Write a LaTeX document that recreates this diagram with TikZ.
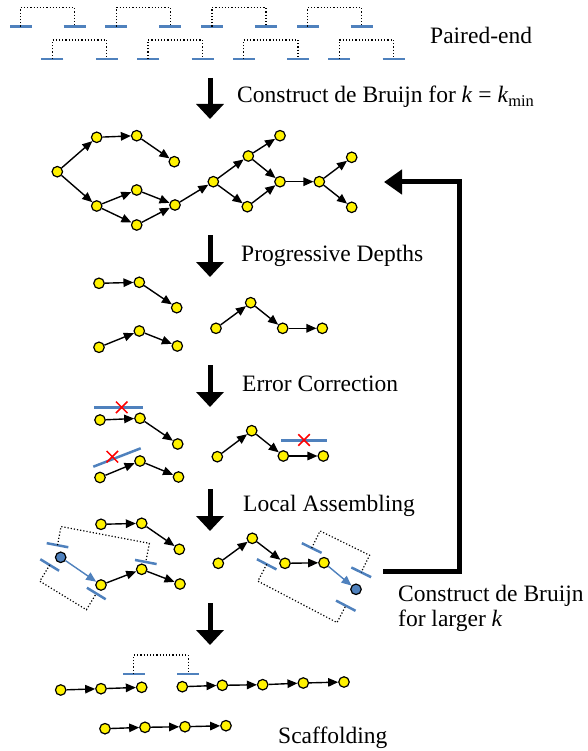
\documentclass[tikz,border=0pt]{standalone}
\usepackage{fontspec}
\setmainfont{Liberation Serif}
\usetikzlibrary{arrows.meta,calc,shapes.misc}

\definecolor{readblue}{RGB}{79,129,189}

\tikzset{
  kmer/.style={circle,draw=black,fill=yellow,line width=1.2pt,minimum size=10.5pt,inner sep=0pt},
  seed/.style={kmer,fill=readblue},
  edge/.style={-{Triangle[length=10pt,width=8.5pt]},line width=1.4pt},
  extend/.style={edge,draw=readblue,fill=readblue},
  bigarrow/.style={-{Triangle[length=15pt,width=27pt]},line width=5pt},
  read/.style={draw=readblue,line width=2.5pt},
  insert/.style={draw=black,dotted,line width=1.2pt},
  errmark/.style={cross out,draw=red,line width=1.5pt,minimum size=10pt,inner sep=0pt},
  step label/.style={font=\fontsize{23.5}{25}\selectfont,anchor=west,inner sep=0pt,align=left},
}

% two reads of a pair with the insert between them
\newcommand{\pairedread}[3]{%
  \draw [read] ($(#1)!11pt!(#2)$) -- ($(#1)!-11pt!(#2)$);
  \draw [read] ($(#2)!11pt!(#1)$) -- ($(#2)!-11pt!(#1)$);
  \path ($(#1)!19pt!#3:(#2)$) coordinate (prc);
  \draw [insert] (#1) -- (prc) -- ($(#2)+(prc)-(#1)$) -- (#2);
}

\begin{document}
\begin{tikzpicture}[x=1pt,y=1pt]
\useasboundingbox (0,0) rectangle (587,-751);
% paired-end reads
\foreach \x in {20.5,116.2,211.9,307.6} {
  \coordinate (ra) at (\x,-26.7);
  \coordinate (rb) at (\x+54,-26.7);
  \pairedread{ra}{rb}{90}
}
\foreach \x in {52.3,148,243.5,339.2} {
  \coordinate (ra) at (\x,-59);
  \coordinate (rb) at (\x+54.5,-59);
  \pairedread{ra}{rb}{90}
}
\node [step label] (lpaired) at (430,-35) {Paired-end};

\coordinate (a1s) at (210,-78);
\coordinate (a1e) at (210,-119);
\draw [bigarrow] (a1s) -- (a1e);
\node [step label] (lbuild) at (237,-97) {Construct de Bruijn for \textit{k} = \textit{k}\textsubscript{min}};

% de Bruijn graph
\node [kmer] (g1) at (57.3,-171.7) {};
\node [kmer] (g2) at (96.7,-137.3) {};
\node [kmer] (g3) at (136.7,-135.7) {};
\node [kmer] (g4) at (174.3,-161.7) {};
\node [kmer] (g5) at (96.7,-206) {};
\node [kmer] (g6) at (136.7,-190) {};
\node [kmer] (g7) at (136.7,-225) {};
\node [kmer] (g8) at (175,-205) {};
\node [kmer] (g9) at (213.3,-181.7) {};
\node [kmer] (g10) at (248.3,-156) {};
\node [kmer] (g11) at (280,-135.7) {};
\node [kmer] (g12) at (247.3,-206.7) {};
\node [kmer] (g13) at (280,-181.7) {};
\node [kmer] (g14) at (319.3,-181.7) {};
\node [kmer] (g15) at (351.7,-157.3) {};
\node [kmer] (g16) at (351.7,-207.3) {};
\draw [edge] (g1) -- (g2);
\draw [edge] (g2) -- (g3);
\draw [edge] (g3) -- (g4);
\draw [edge] (g1) -- (g5);
\draw [edge] (g5) -- (g6);
\draw [edge] (g5) -- (g7);
\draw [edge] (g6) -- (g8);
\draw [edge] (g7) -- (g8);
\draw [edge] (g8) -- (g9);
\draw [edge] (g9) -- (g10);
\draw [edge] (g10) -- (g11);
\draw [edge] (g9) -- (g12);
\draw [edge] (g10) -- (g13);
\draw [edge] (g12) -- (g13);
\draw [edge] (g13) -- (g14);
\draw [edge] (g14) -- (g15);
\draw [edge] (g14) -- (g16);

% back to a larger k
\coordinate (bks) at (383,-571);
\coordinate (bkr) at (459,-571);
\coordinate (bkt) at (459,-182);
\coordinate (bke) at (384,-182);
\draw [-{Triangle[length=18pt,width=24pt]},line width=5pt] (bks) -- (bkr) -- (bkt) -- (bke);

\coordinate (a2s) at (210,-235);
\coordinate (a2e) at (210,-277);
\draw [bigarrow] (a2s) -- (a2e);
\node [step label] (ldepth) at (241,-256) {Progressive Depths};

% contigs after depth filtering
\node [kmer] (p1) at (99,-283.3) {};
\node [kmer] (p2) at (139.3,-282.3) {};
\node [kmer] (p3) at (176.7,-307.7) {};
\node [kmer] (p4) at (99,-347.3) {};
\node [kmer] (p5) at (139.3,-331) {};
\node [kmer] (p6) at (177.3,-346) {};
\node [kmer] (p7) at (216,-328.3) {};
\node [kmer] (p8) at (250.7,-302.7) {};
\node [kmer] (p9) at (282.7,-328.3) {};
\node [kmer] (p10) at (322.3,-328.3) {};
\draw [edge] (p1) -- (p2);
\draw [edge] (p2) -- (p3);
\draw [edge] (p4) -- (p5);
\draw [edge] (p5) -- (p6);
\draw [edge] (p7) -- (p8);
\draw [edge] (p8) -- (p9);
\draw [edge] (p9) -- (p10);

\coordinate (a3s) at (210,-365);
\coordinate (a3e) at (210,-407);
\draw [bigarrow] (a3s) -- (a3e);
\node [step label] (lerror) at (242,-384) {Error Correction};

% error correction
\node [kmer] (e1) at (100,-420) {};
\node [kmer] (e2) at (140,-418.3) {};
\node [kmer] (e3) at (177.7,-444) {};
\node [kmer] (e4) at (100,-477.5) {};
\node [kmer] (e5) at (140,-461) {};
\node [kmer] (e6) at (178.5,-477) {};
\node [kmer] (e7) at (217.3,-456.7) {};
\node [kmer] (e8) at (251.7,-430.7) {};
\node [kmer] (e9) at (283.3,-456) {};
\node [kmer] (e10) at (323.3,-456) {};
\draw [edge] (e1) -- (e2);
\draw [edge] (e2) -- (e3);
\draw [edge] (e4) -- (e5);
\draw [edge] (e5) -- (e6);
\draw [edge] (e7) -- (e8);
\draw [edge] (e8) -- (e9);
\draw [edge] (e9) -- (e10);
\draw [read] (94,-407.7) -- (142.7,-407.7);
\draw [read] (93.3,-466.7) -- (140.7,-448.3);
\draw [read] (281,-440.7) -- (327,-440.7);
\node [errmark] (x1) at (121.7,-407.3) {};
\node [errmark] (x2) at (112.3,-456.7) {};
\node [errmark] (x3) at (304,-440) {};

\coordinate (a4s) at (210,-489);
\coordinate (a4e) at (210,-531);
\draw [bigarrow] (a4s) -- (a4e);
\node [step label] (llocal) at (243,-506) {Local Assembling};

% local assembly
\node [kmer] (l1) at (101,-524.3) {};
\node [kmer] (l2) at (141.7,-523.3) {};
\node [kmer] (l3) at (179.3,-549.3) {};
\node [seed] (s1) at (60.7,-557.3) {};
\node [kmer] (l4) at (101,-585) {};
\node [kmer] (l5) at (141.7,-569.3) {};
\node [kmer] (l6) at (180,-584) {};
\node [kmer] (l7) at (218.3,-563.3) {};
\node [kmer] (l8) at (252.3,-538.3) {};
\node [kmer] (l9) at (285,-563.3) {};
\node [kmer] (l10) at (324,-562.7) {};
\node [seed] (s2) at (356,-589.3) {};
\draw [edge] (l1) -- (l2);
\draw [edge] (l2) -- (l3);
\draw [extend] (s1) -- (l4);
\draw [edge] (l4) -- (l5);
\draw [edge] (l5) -- (l6);
\draw [edge] (l7) -- (l8);
\draw [edge] (l8) -- (l9);
\draw [edge] (l9) -- (l10);
\draw [extend] (l10) -- (s2);
\coordinate (ra) at (57.5,-545.2);
\coordinate (rb) at (145.8,-562);
\pairedread{ra}{rb}{90}
\coordinate (ra) at (49.7,-565);
\coordinate (rb) at (96.3,-593.5);
\pairedread{ra}{rb}{-90}
\coordinate (ra) at (311.7,-548);
\coordinate (rb) at (361.2,-572.3);
\pairedread{ra}{rb}{90}
\coordinate (ra) at (266.7,-564.3);
\coordinate (rb) at (345.8,-605.7);
\pairedread{ra}{rb}{-90}
\node [step label] (llarger) at (398,-608.5) {Construct de Bruijn\\for larger \textit{k}};

\coordinate (a5s) at (210,-603);
\coordinate (a5e) at (210,-645);
\draw [bigarrow] (a5s) -- (a5e);

% scaffolds
\coordinate (ra) at (133.8,-674);
\coordinate (rb) at (188.3,-674);
\pairedread{ra}{rb}{90}
\node [kmer] (c1) at (60.7,-690) {};
\node [kmer] (c2) at (101,-688.7) {};
\node [kmer] (c3) at (141.7,-687.3) {};
\node [kmer] (c4) at (182.3,-686.7) {};
\node [kmer] (c5) at (222.3,-685.3) {};
\node [kmer] (c6) at (262.7,-684.7) {};
\node [kmer] (c7) at (303.3,-683) {};
\node [kmer] (c8) at (344,-682) {};
\node [kmer] (c9) at (105,-728.7) {};
\node [kmer] (c10) at (145,-727.3) {};
\node [kmer] (c11) at (185,-726.7) {};
\node [kmer] (c12) at (226,-725.7) {};
\draw [edge] (c1) -- (c2);
\draw [edge] (c2) -- (c3);
\draw [edge] (c4) -- (c5);
\draw [edge] (c5) -- (c6);
\draw [edge] (c6) -- (c7);
\draw [edge] (c7) -- (c8);
\draw [edge] (c9) -- (c10);
\draw [edge] (c10) -- (c11);
\draw [edge] (c11) -- (c12);
\node [step label] (lscaf) at (278,-738) {Scaffolding};
\end{tikzpicture}
\end{document}
